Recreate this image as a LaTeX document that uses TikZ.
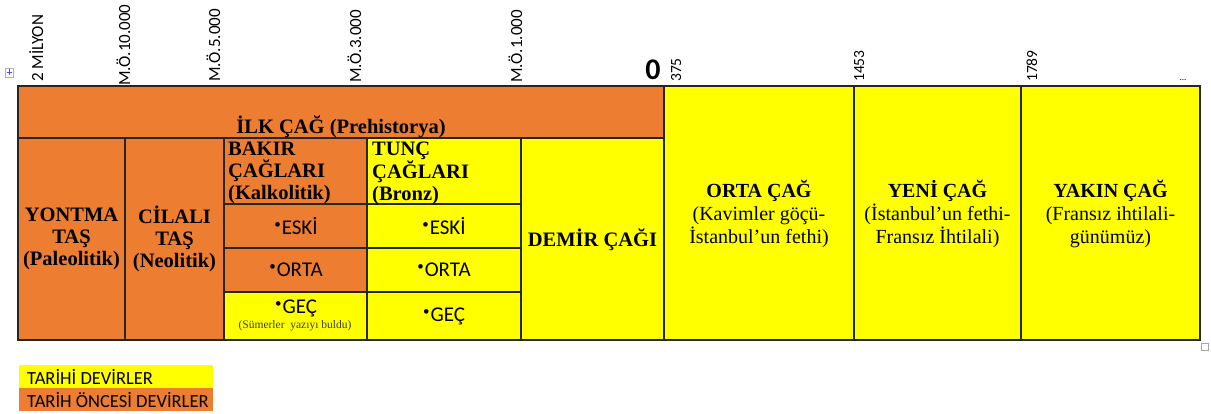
\documentclass[tikz,border=0pt]{standalone}
\usepackage{fontspec}
\setmainfont{Liberation Serif}
\newfontfamily\calibri{Carlito}
\definecolor{turuncu}{RGB}{237,125,49}
\definecolor{sari}{RGB}{255,255,0}
\newcommand{\madde}{{\fontsize{13}{13}\selectfont\raisebox{6pt}{•}}\hspace{1pt}}
\tikzset{
    ilk/.style={fill=turuncu,draw=black!85,line width=1.2pt},
    tarihi/.style={fill=sari,draw=black!85,line width=1.2pt},
    baslik/.style={font=\fontsize{20.5}{22}\selectfont\bfseries,align=center,inner sep=0pt},
    donem/.style={font=\fontsize{20}{23}\selectfont,align=center,inner sep=0pt},
    evre/.style={font=\calibri\fontsize{21}{21}\selectfont,inner sep=0pt},
    tarih/.style={font=\calibri\fontsize{17}{17}\selectfont,rotate=90,anchor=base west,inner sep=0pt},
    yil/.style={font=\calibri\fontsize{15.5}{15.5}\selectfont,rotate=90,anchor=base west,inner sep=0pt},
    aciklama/.style={font=\calibri\fontsize{18.5}{18.5}\selectfont,anchor=base west,inner sep=0pt}
}
\begin{document}
\begin{tikzpicture}[x=1pt,y=-1pt]
    \useasboundingbox(0,0)rectangle(1211,414);
    
    % tarih oncesi
    \draw[ilk](18,86)rectangle(664,138);
    \draw[ilk](18,138)rectangle(125,340);
    \draw[ilk](125,138)rectangle(224,340);
    \draw[ilk](224,138)rectangle(367,204);
    \draw[ilk](224,204)rectangle(367,248);
    \draw[ilk](224,248)rectangle(367,292);
    \draw[tarihi](224,292)rectangle(367,340);
    \draw[tarihi](367,138)rectangle(521,204);
    \draw[tarihi](367,204)rectangle(521,248);
    \draw[tarihi](367,248)rectangle(521,292);
    \draw[tarihi](367,292)rectangle(521,340);
    \draw[tarihi](521,138)rectangle(664,340);
    
    % tarihi devirler
    \draw[tarihi](664,86)rectangle(854,340);
    \draw[tarihi](854,86)rectangle(1021,340);
    \draw[tarihi](1021,86)rectangle(1200,340);
    
    \node[baslik](ilkcag)at(341,127){İLK ÇAĞ (Prehistorya)};
    \node[baslik](yontma)at(71.5,239){YONTMA\\TAŞ\\(Paleolitik)};
    \node[baslik](cilali)at(174.5,239){CİLALI\\TAŞ\\(Neolitik)};
    \node[baslik,align=left,anchor=west](bakir)at(228,173){BAKIR\\ÇAĞLARI\\(Kalkolitik)};
    \node[baslik,align=left,anchor=west](tunc)at(372,173){TUNÇ\\ÇAĞLARI\\(Bronz)};
    \node[baslik](demir)at(592.5,240){DEMİR ÇAĞI};
    
    \node[evre](beski)at(296,226){\madde ESKİ};
    \node[evre](borta)at(296,270){\madde ORTA};
    \node[evre](bgec)at(296,308){\madde GEÇ};
    \node[font=\fontsize{11.5}{11.5}\selectfont,text=black!75,inner sep=0pt](sumer)at(295,326){(Sümerler\ \ yazıyı buldu)};
    \node[evre](teski)at(444,226){\madde ESKİ};
    \node[evre](torta)at(444,270){\madde ORTA};
    \node[evre](tgec)at(444,316){\madde GEÇ};
    
    \node[donem](orta)at(759,214){\textbf{ORTA ÇAĞ}\\(Kavimler göçü-\\İstanbul’un fethi)};
    \node[donem](yeni)at(937.5,214){\textbf{YENİ ÇAĞ}\\(İstanbul’un fethi-\\Fransız İhtilali)};
    \node[donem](yakin)at(1110.5,214){\textbf{YAKIN ÇAĞ}\\(Fransız ihtilali-\\günümüz)};
    
    % zaman cizgisi
    \draw(43,82)node[tarih]{2 MİLYON};
    \draw(130,86)node[tarih]{M.Ö.10.000};
    \draw(220,82)node[tarih]{M.Ö.5.000};
    \draw(361,83)node[tarih]{M.Ö.3.000};
    \draw(522,83)node[tarih]{M.Ö.1.000};
    \draw(653,80)node[font=\calibri\bfseries\fontsize{30}{30}\selectfont,anchor=base,inner sep=0pt]{0};
    \draw(681,82)node[yil]{375};
    \draw(864,82)node[yil]{1453};
    \draw(1037,82)node[yil]{1789};
    \draw(1183,81)node[font=\calibri\fontsize{9}{9}\selectfont,anchor=base,inner sep=0pt]{...};
    
    % aciklama
    \fill[sari](19,365)rectangle(213,388);
    \fill[turuncu](19,388)rectangle(213,411);
    \draw(27,384)node[aciklama]{TARİHİ DEVİRLER};
    \draw(27,407)node[aciklama]{TARİH ÖNCESİ DEVİRLER};
    
    % tablo tutamaclari
    \draw[gray!60,fill=white](5,68)rectangle(13,77);
    \draw[blue!70,line width=0.8pt](9,69.5)--(9,75.5)(6.5,72.5)--(11.5,72.5);
    \draw[gray!70,fill=white](1201,343)rectangle(1208,350);
\end{tikzpicture}
\end{document}
